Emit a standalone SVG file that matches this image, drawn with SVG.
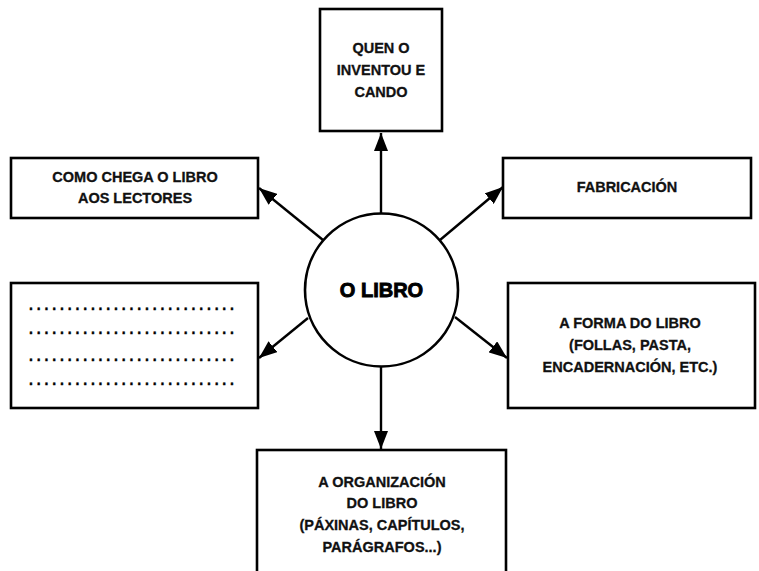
<svg xmlns="http://www.w3.org/2000/svg" width="759" height="571" viewBox="0 0 759 571">
<style>
.box{fill:#fff;stroke:#000;stroke-width:2.6}
.t{font-family:"Liberation Sans",Arial,sans-serif;font-weight:bold;font-size:14.5px;fill:#111;stroke:#111;stroke-width:0.3;text-anchor:middle}
.big{font-family:"Liberation Sans",Arial,sans-serif;font-weight:900;font-size:20px;fill:#000;stroke:#000;stroke-width:0.9;text-anchor:middle}
.dots{font-family:"Liberation Sans",Arial,sans-serif;font-weight:bold;font-size:14px;fill:#000;stroke:#000;stroke-width:0.4}
</style>
<defs>
<marker id="ahb" markerWidth="18" markerHeight="14" refX="18" refY="7" orient="auto" markerUnits="userSpaceOnUse" viewBox="0 0 18 14">
<path d="M0,0 L18,7 L0,14 z" fill="#000"/>
</marker>
</defs>
<rect width="759" height="571" fill="#fff"/>
<g id="connectors" stroke="#000" stroke-width="2.4" fill="none">
<line x1="381" y1="213" x2="381" y2="133" marker-end="url(#ahb)"/>
<line x1="323" y1="240" x2="259" y2="188" marker-end="url(#ahb)"/>
<line x1="440" y1="240" x2="503" y2="187" marker-end="url(#ahb)"/>
<line x1="308" y1="318" x2="259" y2="358" marker-end="url(#ahb)"/>
<line x1="455" y1="317" x2="507" y2="358" marker-end="url(#ahb)"/>
<line x1="381" y1="367" x2="381" y2="449" marker-end="url(#ahb)"/>
</g>
<g id="center">
<circle cx="381.5" cy="290" r="76.5" fill="#fff" stroke="#000" stroke-width="2.6"/>
<text class="big" x="381.5" y="297">O LIBRO</text>
</g>
<g id="quen">
<rect class="box" x="320" y="9" width="122" height="122"/>
<text class="t" x="381" y="53">QUEN O</text>
<text class="t" x="381" y="75">INVENTOU E</text>
<text class="t" x="381" y="97">CANDO</text>
</g>
<g id="como">
<rect class="box" x="11" y="158" width="247" height="60"/>
<text class="t" x="135" y="182">COMO CHEGA O LIBRO</text>
<text class="t" x="135" y="203">AOS LECTORES</text>
</g>
<g id="fabricacion">
<rect class="box" x="503" y="158" width="248" height="60"/>
<text class="t" x="627" y="192">FABRICACIÓN</text>
</g>
<g id="blank">
<rect class="box" x="11" y="283" width="247" height="125"/>
<text class="dots" x="29" y="310" textLength="205" lengthAdjust="spacing">...........................</text>
<text class="dots" x="29" y="334" textLength="205" lengthAdjust="spacing">...........................</text>
<text class="dots" x="29" y="361" textLength="205" lengthAdjust="spacing">...........................</text>
<text class="dots" x="29" y="385" textLength="205" lengthAdjust="spacing">...........................</text>
</g>
<g id="forma">
<rect class="box" x="508" y="283" width="247" height="125"/>
<text class="t" x="630" y="328">A FORMA DO LIBRO</text>
<text class="t" x="630" y="350">(FOLLAS, PASTA,</text>
<text class="t" x="630" y="372">ENCADERNACIÓN, ETC.)</text>
</g>
<g id="organizacion">
<rect class="box" x="257" y="450" width="249" height="140"/>
<text class="t" x="382" y="487">A ORGANIZACIÓN</text>
<text class="t" x="382" y="508">DO LIBRO</text>
<text class="t" x="382" y="530">(PÁXINAS, CAPÍTULOS,</text>
<text class="t" x="382" y="552">PARÁGRAFOS...)</text>
</g>
</svg>
